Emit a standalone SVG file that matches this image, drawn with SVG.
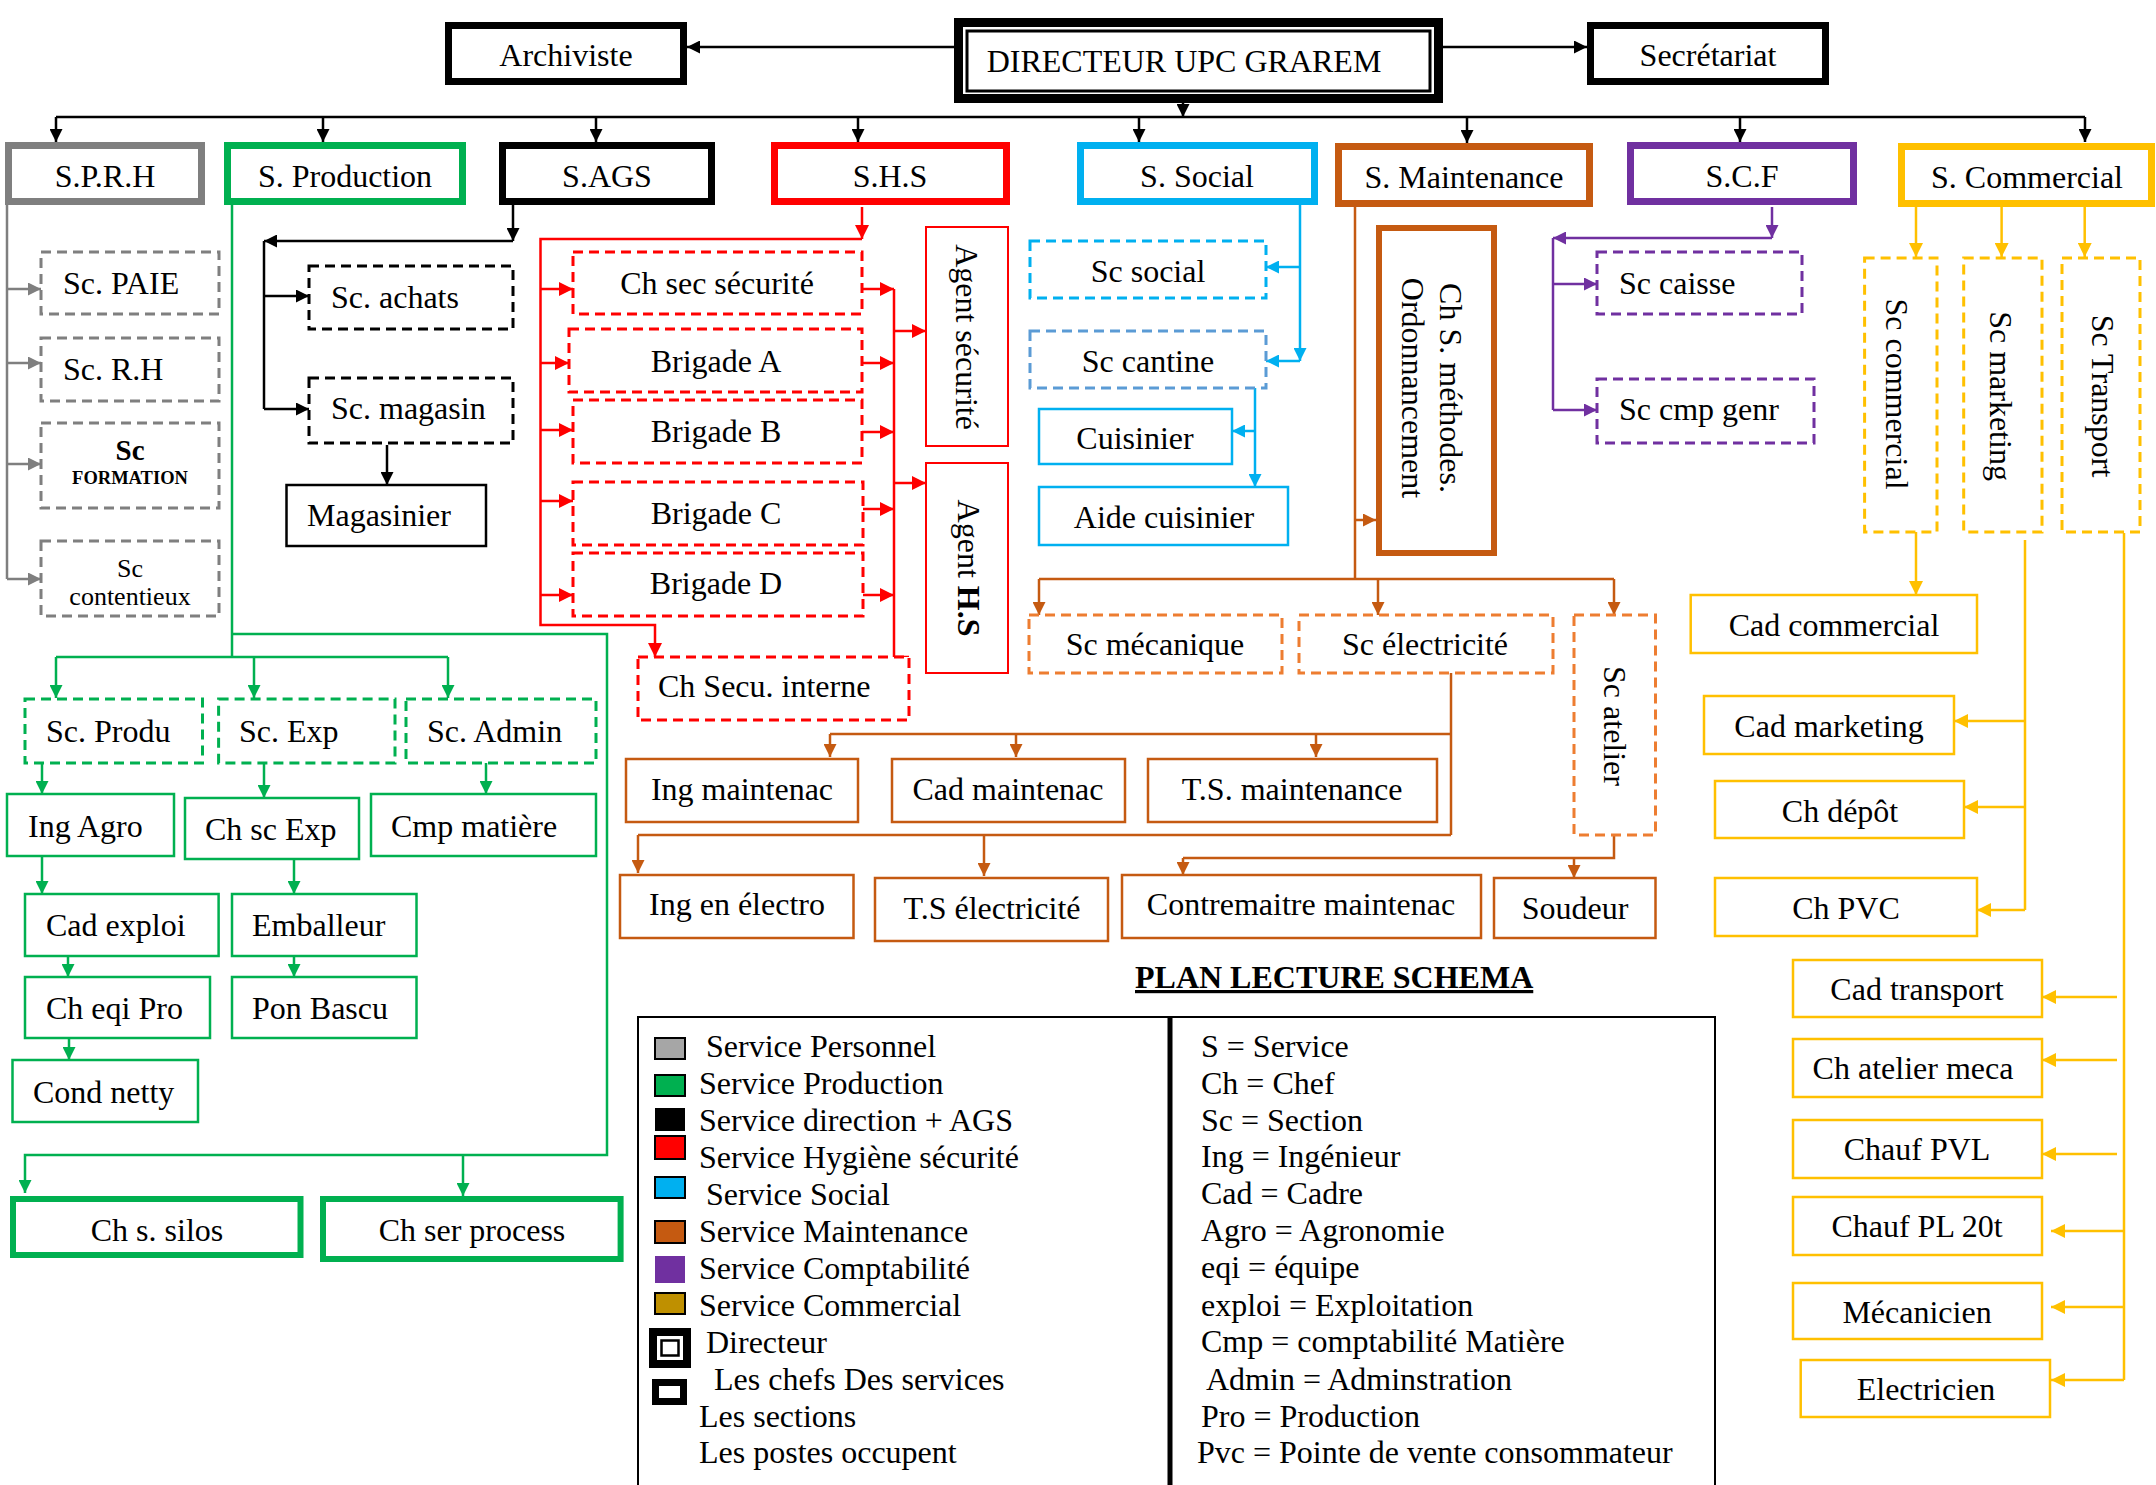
<svg xmlns="http://www.w3.org/2000/svg" width="2156" height="1485" viewBox="0 0 2156 1485">
<defs>
<style>
text{font-family:"Liberation Serif","Times New Roman",serif;font-size:32px;fill:#000}
.m{text-anchor:middle}
.b{font-weight:bold}
rect{fill:#fff}
.svc{stroke-width:7}
.sol{stroke-width:2.5}
.d{stroke-width:3;stroke-dasharray:10 6}
.k{stroke:#000}.g{stroke:#7f7f7f}.gr{stroke:#00b050}.r{stroke:#ff0000}.bl{stroke:#00b0f0}.bl2{stroke:#5b9bd5}.o{stroke:#c55a11}.o2{stroke:#ed7d31}.p{stroke:#7030a0}.y{stroke:#ffc000}
#conn path{fill:none;stroke-width:2.5}
</style>
<marker id="mk" viewBox="0 0 10 10" refX="10" refY="5" markerWidth="13" markerHeight="13" markerUnits="userSpaceOnUse" orient="auto"><path d="M0,0L10,5L0,10z" fill="#000"/></marker>
<marker id="mg" viewBox="0 0 10 10" refX="10" refY="5" markerWidth="13" markerHeight="13" markerUnits="userSpaceOnUse" orient="auto"><path d="M0,0L10,5L0,10z" fill="#7f7f7f"/></marker>
<marker id="mgr" viewBox="0 0 10 10" refX="10" refY="5" markerWidth="13" markerHeight="13" markerUnits="userSpaceOnUse" orient="auto"><path d="M0,0L10,5L0,10z" fill="#00b050"/></marker>
<marker id="mr" viewBox="0 0 10 10" refX="10" refY="5" markerWidth="14" markerHeight="14" markerUnits="userSpaceOnUse" orient="auto"><path d="M0,0L10,5L0,10z" fill="#ff0000"/></marker>
<marker id="mb" viewBox="0 0 10 10" refX="10" refY="5" markerWidth="13" markerHeight="13" markerUnits="userSpaceOnUse" orient="auto"><path d="M0,0L10,5L0,10z" fill="#00b0f0"/></marker>
<marker id="mo" viewBox="0 0 10 10" refX="10" refY="5" markerWidth="13" markerHeight="13" markerUnits="userSpaceOnUse" orient="auto"><path d="M0,0L10,5L0,10z" fill="#c55a11"/></marker>
<marker id="mp" viewBox="0 0 10 10" refX="10" refY="5" markerWidth="13" markerHeight="13" markerUnits="userSpaceOnUse" orient="auto"><path d="M0,0L10,5L0,10z" fill="#7030a0"/></marker>
<marker id="my" viewBox="0 0 10 10" refX="10" refY="5" markerWidth="14" markerHeight="14" markerUnits="userSpaceOnUse" orient="auto"><path d="M0,0L10,5L0,10z" fill="#ffc000"/></marker>
</defs>
<rect x="0" y="0" width="2156" height="1485" style="fill:#fff"/>

<g id="conn">
<!-- black -->
<path class="k" d="M954,47H687" marker-end="url(#mk)"/>
<path class="k" d="M1443,47H1587" marker-end="url(#mk)"/>
<path class="k" d="M1183,103V117" marker-end="url(#mk)"/>
<path class="k" d="M56,117H2085"/>
<path class="k" d="M56,117V142" marker-end="url(#mk)"/>
<path class="k" d="M323,117V142" marker-end="url(#mk)"/>
<path class="k" d="M596,117V142" marker-end="url(#mk)"/>
<path class="k" d="M858,117V142" marker-end="url(#mk)"/>
<path class="k" d="M1139,117V142" marker-end="url(#mk)"/>
<path class="k" d="M1467,117V143" marker-end="url(#mk)"/>
<path class="k" d="M1740,117V142" marker-end="url(#mk)"/>
<path class="k" d="M2085,117V142" marker-end="url(#mk)"/>
<path class="k" d="M513,205V241" marker-end="url(#mk)"/>
<path class="k" d="M513,241H264" marker-end="url(#mk)"/>
<path class="k" d="M264,241V409"/>
<path class="k" d="M264,296H309" marker-end="url(#mk)"/>
<path class="k" d="M264,409H309" marker-end="url(#mk)"/>
<path class="k" d="M387,445V485" marker-end="url(#mk)"/>
<!-- gray -->
<path class="g" d="M7,205V579"/>
<path class="g" d="M7,289H41" marker-end="url(#mg)"/>
<path class="g" d="M7,363H41" marker-end="url(#mg)"/>
<path class="g" d="M7,464H41" marker-end="url(#mg)"/>
<path class="g" d="M7,579H41" marker-end="url(#mg)"/>
<!-- green -->
<path class="gr" d="M232,205V657"/>
<path class="gr" d="M232,634H607V1155H25V1193" marker-end="url(#mgr)"/>
<path class="gr" d="M463,1155V1196" marker-end="url(#mgr)"/>
<path class="gr" d="M56,657H448"/>
<path class="gr" d="M56,657V698" marker-end="url(#mgr)"/>
<path class="gr" d="M254,657V698" marker-end="url(#mgr)"/>
<path class="gr" d="M448,657V698" marker-end="url(#mgr)"/>
<path class="gr" d="M42,763V794" marker-end="url(#mgr)"/>
<path class="gr" d="M264,763V798" marker-end="url(#mgr)"/>
<path class="gr" d="M486,763V794" marker-end="url(#mgr)"/>
<path class="gr" d="M42,856V894" marker-end="url(#mgr)"/>
<path class="gr" d="M294,859V894" marker-end="url(#mgr)"/>
<path class="gr" d="M68,956V977" marker-end="url(#mgr)"/>
<path class="gr" d="M294,956V977" marker-end="url(#mgr)"/>
<path class="gr" d="M69,1038V1060" marker-end="url(#mgr)"/>
<!-- red -->
<path class="r" d="M862,207V239" marker-end="url(#mr)"/>
<path class="r" d="M862,239H540.5V625H655V657" marker-end="url(#mr)"/>
<path class="r" d="M540.5,289H573" marker-end="url(#mr)"/>
<path class="r" d="M540.5,363H569" marker-end="url(#mr)"/>
<path class="r" d="M540.5,430H573" marker-end="url(#mr)"/>
<path class="r" d="M540.5,501H573" marker-end="url(#mr)"/>
<path class="r" d="M540.5,595H573" marker-end="url(#mr)"/>
<path class="r" d="M862,289H894" marker-end="url(#mr)"/>
<path class="r" d="M862,363H894" marker-end="url(#mr)"/>
<path class="r" d="M862,432H894" marker-end="url(#mr)"/>
<path class="r" d="M863,509H894" marker-end="url(#mr)"/>
<path class="r" d="M863,595H894" marker-end="url(#mr)"/>
<path class="r" d="M894,289V657H909"/>
<path class="r" d="M894,331H926" marker-end="url(#mr)"/>
<path class="r" d="M894,483H926" marker-end="url(#mr)"/>
<!-- blue -->
<path class="bl" d="M1300,205V361" marker-end="url(#mb)"/>
<path class="bl" d="M1300,267H1266" marker-end="url(#mb)"/>
<path class="bl" d="M1300,361H1266" marker-end="url(#mb)"/>
<path class="bl" d="M1255,388V487" marker-end="url(#mb)"/>
<path class="bl" d="M1255,431H1232" marker-end="url(#mb)"/>
<!-- brown -->
<path class="o" d="M1355,207V579"/>
<path class="o" d="M1355,520H1376" marker-end="url(#mo)"/>
<path class="o" d="M1039,579H1614"/>
<path class="o" d="M1039,579V615" marker-end="url(#mo)"/>
<path class="o" d="M1378,579V615" marker-end="url(#mo)"/>
<path class="o" d="M1614,579V615" marker-end="url(#mo)"/>
<path class="o" d="M1451,673V835"/>
<path class="o" d="M1451,734H830"/>
<path class="o" d="M830,734V757" marker-end="url(#mo)"/>
<path class="o" d="M1016,734V757" marker-end="url(#mo)"/>
<path class="o" d="M1316,734V757" marker-end="url(#mo)"/>
<path class="o" d="M1451,835H638"/>
<path class="o" d="M638,835V873" marker-end="url(#mo)"/>
<path class="o" d="M984,835V876" marker-end="url(#mo)"/>
<path class="o" d="M1614,835V858H1183"/>
<path class="o" d="M1183,858V875" marker-end="url(#mo)"/>
<path class="o" d="M1574,858V878" marker-end="url(#mo)"/>
<!-- purple -->
<path class="p" d="M1772,207V238" marker-end="url(#mp)"/>
<path class="p" d="M1772,238H1553" marker-end="url(#mp)"/>
<path class="p" d="M1553,238V410"/>
<path class="p" d="M1553,284H1597" marker-end="url(#mp)"/>
<path class="p" d="M1553,410H1597" marker-end="url(#mp)"/>
<!-- gold -->
<path class="y" d="M1916,207V257" marker-end="url(#my)"/>
<path class="y" d="M2001.6,207V257" marker-end="url(#my)"/>
<path class="y" d="M2084.7,207V257" marker-end="url(#my)"/>
<path class="y" d="M1916,532V595" marker-end="url(#my)"/>
<path class="y" d="M2025,540V910"/>
<path class="y" d="M2025,721H1954" marker-end="url(#my)"/>
<path class="y" d="M2025,807H1964" marker-end="url(#my)"/>
<path class="y" d="M2025,910H1977" marker-end="url(#my)"/>
<path class="y" d="M2124,533V1380"/>
<path class="y" d="M2117,997H2042" marker-end="url(#my)"/>
<path class="y" d="M2117,1060H2042" marker-end="url(#my)"/>
<path class="y" d="M2117,1154H2042" marker-end="url(#my)"/>
<path class="y" d="M2124,1231H2051" marker-end="url(#my)"/>
<path class="y" d="M2124,1307H2051" marker-end="url(#my)"/>
<path class="y" d="M2124,1380H2051" marker-end="url(#my)"/>
</g>

<!-- top -->
<g id="directeur"><rect x="958.5" y="22.5" width="480" height="76" class="k" stroke-width="9"/><rect x="967" y="31" width="463" height="60" class="k" stroke-width="3"/><text x="1184" y="72" class="m">DIRECTEUR UPC GRAREM</text></g>
<g id="archiviste"><rect x="448.5" y="25.5" width="235" height="56" class="k svc"/><text x="566" y="66" class="m">Archiviste</text></g>
<g id="secretariat"><rect x="1590.5" y="25.5" width="235" height="56" class="k svc"/><text x="1708" y="66" class="m">Secrétariat</text></g>

<!-- services -->
<g id="sprh"><rect x="8.5" y="145.5" width="193" height="56" class="g svc"/><text x="105" y="187" class="m">S.P.R.H</text></g>
<g id="sprod"><rect x="227.5" y="145.5" width="235" height="56" class="gr svc"/><text x="345" y="187" class="m">S. Production</text></g>
<g id="sags"><rect x="502.5" y="145.5" width="209" height="56" class="k svc"/><text x="607" y="187" class="m">S.AGS</text></g>
<g id="shs"><rect x="774.5" y="145.5" width="232" height="56" class="r svc"/><text x="890" y="187" class="m">S.H.S</text></g>
<g id="ssocial"><rect x="1080.5" y="145.5" width="234" height="56" class="bl svc"/><text x="1197" y="187" class="m">S. Social</text></g>
<g id="smaint"><rect x="1338.5" y="146.5" width="251" height="57" class="o svc"/><text x="1464" y="188" class="m">S. Maintenance</text></g>
<g id="scf"><rect x="1630.5" y="145.5" width="223" height="56" class="p svc"/><text x="1742" y="187" class="m">S.C.F</text></g>
<g id="scomm"><rect x="1901.5" y="146.5" width="250" height="57" class="y svc"/><text x="2027" y="188" class="m">S. Commercial</text></g>

<!-- SPRH sections -->
<g id="sc-paie"><rect x="41" y="252" width="178" height="62" class="g d"/><text x="63" y="294">Sc. PAIE</text></g>
<g id="sc-rh"><rect x="41" y="338" width="178" height="63" class="g d"/><text x="63" y="380">Sc. R.H</text></g>
<g id="sc-formation"><rect x="41" y="423" width="178" height="85" class="g d"/><text x="130" y="460" class="m b" style="font-size:29px">Sc</text><text x="130" y="484" class="m b" style="font-size:18.5px">FORMATION</text></g>
<g id="sc-contentieux"><rect x="41" y="541" width="178" height="75" class="g d"/><text x="130" y="577" class="m" style="font-size:26px">Sc</text><text x="130" y="605" class="m" style="font-size:26px">contentieux</text></g>

<!-- Production -->
<g id="sc-produ"><rect x="25" y="699" width="177.5" height="64" class="gr d"/><text x="46" y="742">Sc. Produ</text></g>
<g id="sc-exp"><rect x="218.6" y="699" width="176.4" height="64" class="gr d"/><text x="239" y="742">Sc. Exp</text></g>
<g id="sc-admin"><rect x="406" y="699" width="190" height="64" class="gr d"/><text x="427" y="742">Sc. Admin</text></g>
<g id="ing-agro"><rect x="7" y="794" width="167" height="62" class="gr sol"/><text x="28" y="837">Ing Agro</text></g>
<g id="ch-sc-exp"><rect x="185" y="798" width="174" height="61" class="gr sol"/><text x="205" y="840">Ch sc Exp</text></g>
<g id="cmp-matiere"><rect x="371" y="794" width="225" height="62" class="gr sol"/><text x="391" y="837">Cmp matière</text></g>
<g id="cad-exploi"><rect x="25" y="894" width="193.6" height="62" class="gr sol"/><text x="46" y="936">Cad exploi</text></g>
<g id="emballeur"><rect x="232" y="894" width="184.5" height="62" class="gr sol"/><text x="252" y="936">Emballeur</text></g>
<g id="ch-eqi-pro"><rect x="25" y="977" width="185" height="61" class="gr sol"/><text x="46" y="1019">Ch eqi Pro</text></g>
<g id="pon-bascu"><rect x="232" y="977" width="184.5" height="61" class="gr sol"/><text x="252" y="1019">Pon Bascu</text></g>
<g id="cond-netty"><rect x="12.5" y="1060" width="185.5" height="62" class="gr sol"/><text x="33" y="1103">Cond netty</text></g>
<g id="ch-silos"><rect x="13" y="1199" width="287.5" height="56" class="gr" stroke-width="6"/><text x="157" y="1241" class="m">Ch s. silos</text></g>
<g id="ch-process"><rect x="323" y="1199" width="297.6" height="60" class="gr" stroke-width="6"/><text x="472" y="1241" class="m">Ch ser process</text></g>

<!-- AGS -->
<g id="sc-achats"><rect x="309" y="266" width="204" height="63" class="k d"/><text x="331" y="308">Sc. achats</text></g>
<g id="sc-magasin"><rect x="309" y="378" width="204" height="65" class="k d"/><text x="331" y="419">Sc. magasin</text></g>
<g id="magasinier"><rect x="286.5" y="485" width="199.5" height="61" class="k sol"/><text x="307" y="526">Magasinier</text></g>

<!-- SHS -->
<g id="ch-sec"><rect x="573" y="252" width="289" height="62" class="r d"/><text x="717" y="294" class="m">Ch sec sécurité</text></g>
<g id="brig-a"><rect x="569" y="329" width="293" height="63" class="r d"/><text x="716" y="372" class="m">Brigade A</text></g>
<g id="brig-b"><rect x="573" y="400" width="289" height="63" class="r d"/><text x="716" y="442" class="m">Brigade B</text></g>
<g id="brig-c"><rect x="573" y="482" width="290" height="63" class="r d"/><text x="716" y="524" class="m">Brigade C</text></g>
<g id="brig-d"><rect x="573" y="553" width="290" height="63" class="r d"/><text x="716" y="594" class="m">Brigade D</text></g>
<g id="ch-secu-interne"><rect x="638" y="657" width="271" height="63" class="r d"/><text x="658" y="697">Ch Secu. interne</text></g>
<g id="agent-securite"><rect x="926" y="227" width="82" height="219" class="r" stroke-width="2"/><text class="m" transform="translate(956,337) rotate(90)">Agent sécurité</text></g>
<g id="agent-hs"><rect x="926" y="463" width="82" height="210" class="r" stroke-width="2"/><text class="m" transform="translate(958,568) rotate(90)">Agent <tspan class="b">H.S</tspan></text></g>

<!-- Social -->
<g id="sc-social"><rect x="1030" y="241" width="236" height="57" class="bl d"/><text x="1148" y="282" class="m">Sc social</text></g>
<g id="sc-cantine"><rect x="1030" y="331" width="236" height="57" class="bl2 d"/><text x="1148" y="372" class="m">Sc cantine</text></g>
<g id="cuisinier"><rect x="1039" y="409" width="193" height="55" class="bl sol"/><text x="1135" y="449" class="m">Cuisinier</text></g>
<g id="aide-cuisinier"><rect x="1039" y="487" width="249" height="58" class="bl sol"/><text x="1164" y="528" class="m">Aide cuisinier</text></g>

<!-- Maintenance -->
<g id="ch-methodes"><rect x="1379" y="228" width="115" height="325" class="o" stroke-width="6"/><text class="m" transform="translate(1440,388) rotate(90)">Ch S. méthodes.</text><text class="m" transform="translate(1402,388) rotate(90)">Ordonnancement</text></g>
<g id="sc-mecanique"><rect x="1029" y="615" width="253" height="58" class="o2 d"/><text x="1155" y="655" class="m">Sc mécanique</text></g>
<g id="sc-electricite"><rect x="1299" y="615" width="254" height="58" class="o2 d"/><text x="1425" y="655" class="m">Sc électricité</text></g>
<g id="sc-atelier"><rect x="1574" y="615" width="81.5" height="220" class="o2 d"/><text class="m" transform="translate(1604,726) rotate(90)">Sc atelier</text></g>
<g id="ing-maint"><rect x="626" y="759" width="232" height="63" class="o sol"/><text x="742" y="800" class="m">Ing maintenac</text></g>
<g id="cad-maint"><rect x="892" y="759" width="233" height="63" class="o sol"/><text x="1008" y="800" class="m">Cad maintenac</text></g>
<g id="ts-maint"><rect x="1148" y="759" width="289" height="63" class="o sol"/><text x="1292" y="800" class="m">T.S. maintenance</text></g>
<g id="ing-electro"><rect x="620" y="875" width="233.5" height="63" class="o sol"/><text x="737" y="915" class="m">Ing en électro</text></g>
<g id="ts-elec"><rect x="875" y="878" width="233" height="63" class="o sol"/><text x="992" y="919" class="m">T.S électricité</text></g>
<g id="contremaitre"><rect x="1122" y="875" width="359" height="63" class="o sol"/><text x="1301" y="915" class="m">Contremaitre maintenac</text></g>
<g id="soudeur"><rect x="1494" y="878" width="161.5" height="60" class="o sol"/><text x="1575" y="919" class="m">Soudeur</text></g>

<!-- SCF -->
<g id="sc-caisse"><rect x="1597" y="252" width="205" height="62" class="p d"/><text x="1619" y="294">Sc caisse</text></g>
<g id="sc-cmp-genr"><rect x="1597" y="379" width="217" height="64" class="p d"/><text x="1619" y="420">Sc cmp genr</text></g>

<!-- Commercial -->
<g id="sc-commercial"><rect x="1864.6" y="258" width="72.4" height="274" class="y d"/><text class="m" transform="translate(1886,394) rotate(90)">Sc commercial</text></g>
<g id="sc-marketing"><rect x="1963.7" y="258" width="78.3" height="274" class="y d"/><text class="m" transform="translate(1990,396) rotate(90)">Sc marketing</text></g>
<g id="sc-transport"><rect x="2062" y="258" width="78" height="274" class="y d"/><text class="m" transform="translate(2092,396) rotate(90)">Sc Transport</text></g>
<g id="cad-commercial"><rect x="1690.7" y="595" width="286.3" height="58" class="y sol"/><text x="1834" y="636" class="m">Cad commercial</text></g>
<g id="cad-marketing"><rect x="1704" y="696" width="250" height="58" class="y sol"/><text x="1829" y="737" class="m">Cad marketing</text></g>
<g id="ch-depot"><rect x="1715" y="781" width="249" height="57" class="y sol"/><text x="1840" y="822" class="m">Ch dépôt</text></g>
<g id="ch-pvc"><rect x="1715" y="878" width="262" height="58" class="y sol"/><text x="1846" y="919" class="m">Ch PVC</text></g>
<g id="cad-transport"><rect x="1793" y="960" width="249" height="57" class="y sol"/><text x="1917" y="1000" class="m">Cad transport</text></g>
<g id="ch-atelier-meca"><rect x="1793" y="1039" width="249" height="58" class="y sol"/><text x="1913" y="1079" class="m">Ch atelier meca</text></g>
<g id="chauf-pvl"><rect x="1793" y="1120" width="249" height="58" class="y sol"/><text x="1917" y="1160" class="m">Chauf PVL</text></g>
<g id="chauf-pl"><rect x="1793" y="1197" width="249" height="58" class="y sol"/><text x="1917" y="1237" class="m">Chauf PL 20t</text></g>
<g id="mecanicien"><rect x="1793" y="1283" width="249" height="56" class="y sol"/><text x="1917" y="1323" class="m">Mécanicien</text></g>
<g id="electricien"><rect x="1800.7" y="1360" width="249.3" height="57" class="y sol"/><text x="1926" y="1400" class="m">Electricien</text></g>

<!-- legend -->
<g id="legend">
<text x="1135" y="988" class="b" text-decoration="underline">PLAN LECTURE SCHEMA</text>
<rect x="638" y="1017" width="1077" height="480" class="k" stroke-width="2" style="fill:none"/>
<path d="M1170,1017V1490" stroke="#000" stroke-width="5"/>
<rect x="655" y="1038" width="30" height="21" style="fill:#a6a6a6" stroke="#000" stroke-width="2"/>
<rect x="655" y="1075" width="30" height="21" style="fill:#00b050" stroke="#000" stroke-width="2"/>
<rect x="655" y="1108" width="30" height="23" style="fill:#000"/>
<rect x="655" y="1136" width="30" height="23" style="fill:#ff0000" stroke="#000" stroke-width="2"/>
<rect x="655" y="1177" width="30" height="21" style="fill:#00b0f0" stroke="#000" stroke-width="2"/>
<rect x="655" y="1221" width="30" height="22" style="fill:#c55a11" stroke="#000" stroke-width="2"/>
<rect x="655" y="1256" width="30" height="27" style="fill:#7030a0"/>
<rect x="655" y="1293" width="30" height="21" style="fill:#bf9000" stroke="#000" stroke-width="2"/>
<rect x="649" y="1328" width="42" height="40" style="fill:#000"/>
<rect x="657" y="1336" width="26" height="24" style="fill:#fff"/>
<rect x="661.5" y="1340.5" width="17" height="15" style="fill:#fff" stroke="#000" stroke-width="2.5"/>
<rect x="655.5" y="1382.5" width="28" height="19" style="fill:#fff" stroke="#000" stroke-width="7"/>
<text x="706" y="1057">Service Personnel</text>
<text x="699" y="1094">Service Production</text>
<text x="699" y="1131">Service direction + AGS</text>
<text x="699" y="1168">Service Hygiène sécurité</text>
<text x="706" y="1205">Service Social</text>
<text x="699" y="1242">Service Maintenance</text>
<text x="699" y="1279">Service Comptabilité</text>
<text x="699" y="1316">Service Commercial</text>
<text x="706" y="1353">Directeur</text>
<text x="714" y="1390">Les chefs Des services</text>
<text x="699" y="1427">Les sections</text>
<text x="699" y="1463">Les postes occupent</text>
<text x="1201" y="1057">S = Service</text>
<text x="1201" y="1094">Ch = Chef</text>
<text x="1201" y="1131">Sc = Section</text>
<text x="1201" y="1167">Ing = Ingénieur</text>
<text x="1201" y="1204">Cad = Cadre</text>
<text x="1201" y="1241">Agro = Agronomie</text>
<text x="1201" y="1278">eqi = équipe</text>
<text x="1201" y="1316">exploi = Exploitation</text>
<text x="1201" y="1352">Cmp = comptabilité Matière</text>
<text x="1206" y="1390">Admin = Adminstration</text>
<text x="1201" y="1427">Pro = Production</text>
<text x="1197" y="1463">Pvc = Pointe de vente consommateur</text>
</g>
</svg>
